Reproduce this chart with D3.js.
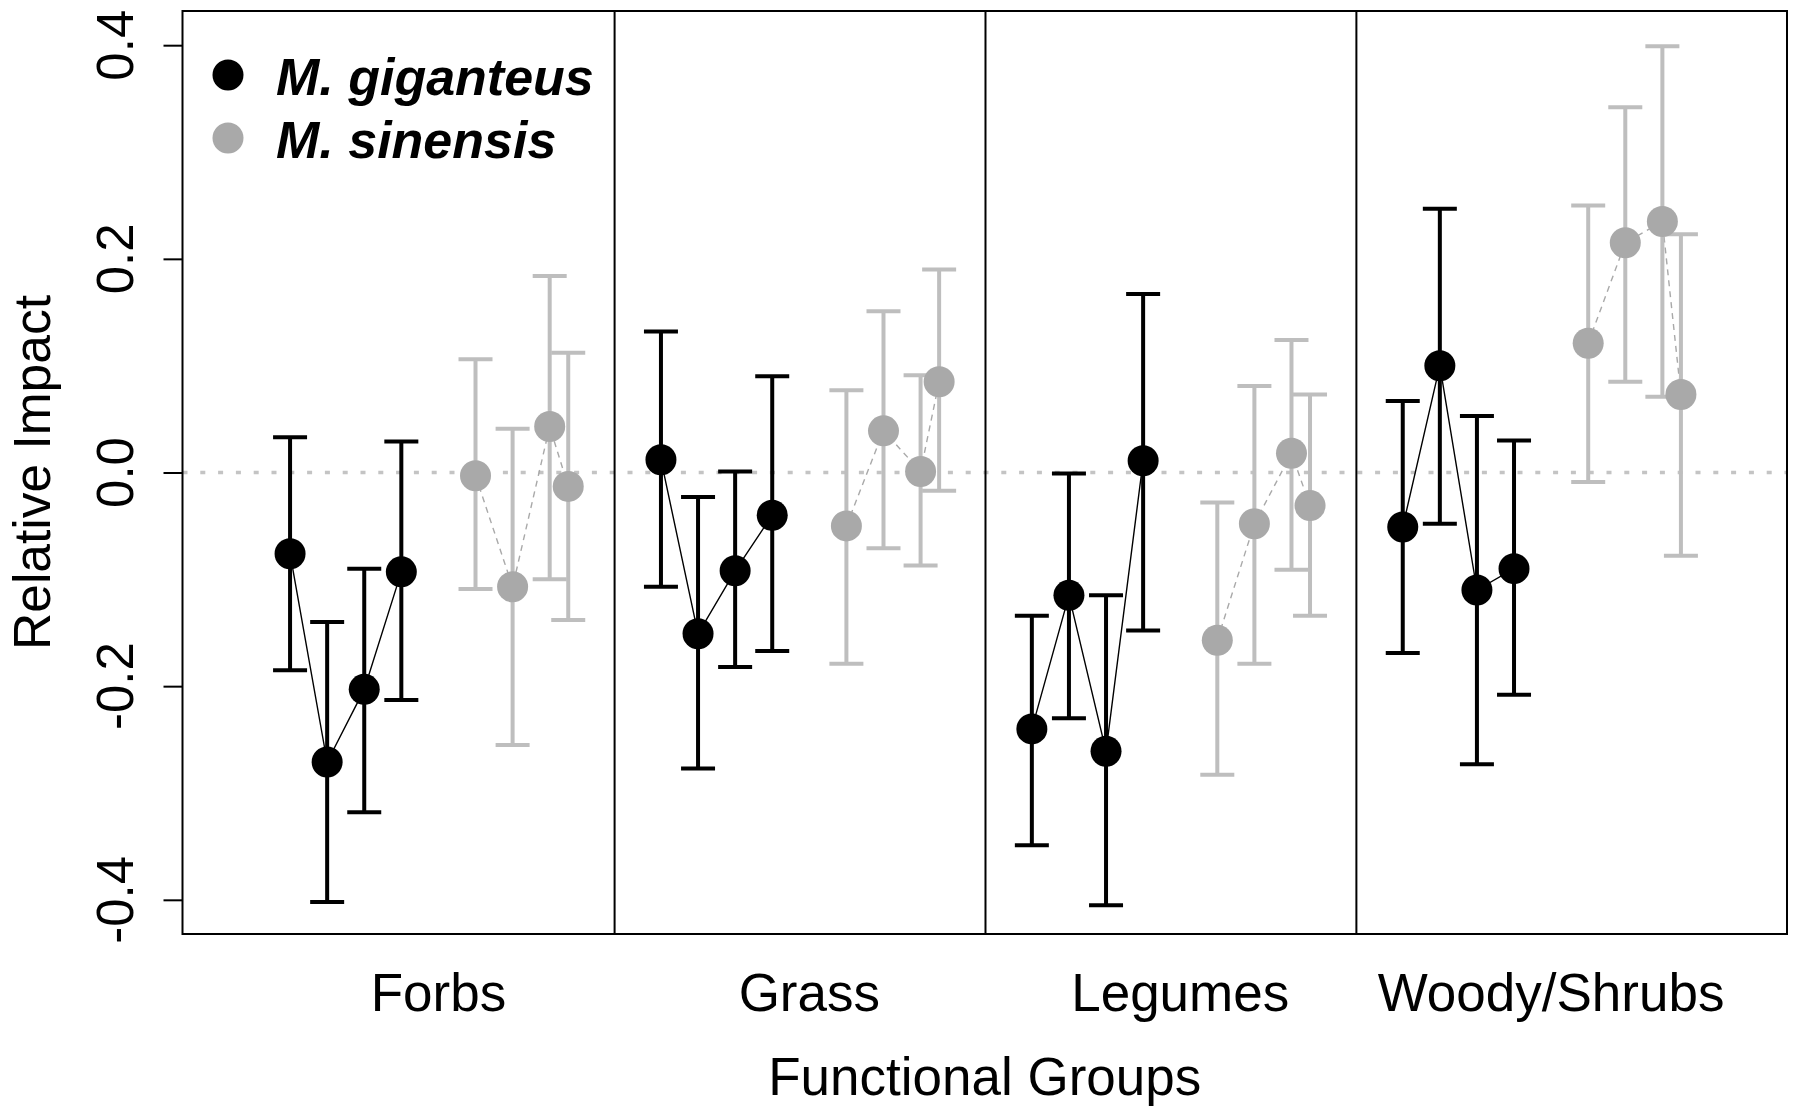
<!DOCTYPE html>
<html>
<head>
<meta charset="utf-8">
<script src="https://cdn.jsdelivr.net/npm/d3@7"></script>
<style>
  body { margin: 0; background: #fff; }
  text { font-family: "Liberation Sans", Arial, sans-serif; }
</style>
</head>
<body>
<div id="chart"></div>
<script>
// functional groups and where each group starts on the x axis
var groups = ["Forbs", "Grass", "Legumes", "Woody/Shrubs"];
var groupStart = [0, 10, 20, 30];
var groupLabelAt = [5, 15, 25, 35];
var dividers = [9.75, 19.75, 29.75];

// x offsets inside a group for each species
var giganteusPos = [1, 2, 3, 4];
var sinensisPos = [6, 7, 8, 8.5];

// M. giganteus: mean, upper and lower bounds per group
var gigMean = [
  [-0.076, -0.271, -0.203, -0.093],
  [0.012, -0.151, -0.092, -0.040],
  [-0.240, -0.115, -0.261, 0.011],
  [-0.051, 0.100, -0.110, -0.090]
];
var gigUpper = [
  [0.033, -0.140, -0.090, 0.029],
  [0.132, -0.023, 0.001, 0.090],
  [-0.134, -0.001, -0.115, 0.167],
  [0.067, 0.247, 0.053, 0.030]
];
var gigLower = [
  [-0.185, -0.402, -0.318, -0.213],
  [-0.107, -0.277, -0.182, -0.167],
  [-0.349, -0.230, -0.405, -0.148],
  [-0.169, -0.048, -0.273, -0.208]
];

// M. sinensis
var sinMean = [
  [-0.003, -0.107, 0.043, -0.013],
  [-0.050, 0.039, 0.001, 0.085],
  [-0.157, -0.048, 0.018, -0.031],
  [0.121, 0.215, 0.235, 0.073]
];
var sinUpper = [
  [0.106, 0.041, 0.184, 0.112],
  [0.077, 0.151, 0.091, 0.190],
  [-0.028, 0.081, 0.124, 0.073],
  [0.250, 0.342, 0.399, 0.223]
];
var sinLower = [
  [-0.109, -0.255, -0.100, -0.138],
  [-0.179, -0.071, -0.087, -0.017],
  [-0.283, -0.179, -0.091, -0.134],
  [-0.009, 0.085, 0.071, -0.078]
];

var yTicks = [-0.4, -0.2, 0.0, 0.2, 0.4];
var speciesNames = ["M. giganteus", "M. sinensis"];

var W = 1800, H = 1118;
var plot = { left: 182.5, right: 1787, top: 11, bottom: 934 };

var svg = d3.select("#chart")
  .append("svg")
  .attr("width", W)
  .attr("height", H);

var x = d3.scaleLinear()
  .domain([-1.9, 41.36])
  .range([plot.left, plot.right]);

var y = d3.scaleLinear()
  .domain([-0.432, 0.432])
  .range([plot.bottom, plot.top]);

// zero reference line
svg.append("line")
  .attr("x1", plot.left).attr("x2", plot.right)
  .attr("y1", y(0)).attr("y2", y(0))
  .attr("stroke", "#c4c4c4")
  .attr("stroke-width", 3.5)
  .attr("stroke-dasharray", "5,12.8");

// build point records
function makeSeries(mean, upper, lower, pos) {
  var out = [];
  groups.forEach(function (g, gi) {
    var pts = pos.map(function (p, i) {
      return { x: groupStart[gi] + p, m: mean[gi][i], hi: upper[gi][i], lo: lower[gi][i] };
    });
    out.push(pts);
  });
  return out;
}

var series = [
  { name: speciesNames[0], data: makeSeries(gigMean, gigUpper, gigLower, giganteusPos),
    bar: "#000", pt: "#000", dash: null },
  { name: speciesNames[1], data: makeSeries(sinMean, sinUpper, sinLower, sinensisPos),
    bar: "#bebebe", pt: "#a9a9a9", dash: "6,5" }
];

var line = d3.line()
  .x(d => x(d.x))
  .y(d => y(d.m));

var capHalf = 17;

series.forEach(function (s) {
  var g = svg.append("g");

  s.data.forEach(function (pts) {
    g.append("path")
      .datum(pts)
      .attr("fill", "none")
      .attr("stroke", s.dash ? "#a9a9a9" : "#000")
      .attr("stroke-width", 1.4)
      .attr("stroke-dasharray", s.dash)
      .attr("d", line);
  });

  var all = [].concat.apply([], s.data);

  g.selectAll(".bar")
    .data(all)
    .enter().append("line")
    .attr("x1", d => x(d.x)).attr("x2", d => x(d.x))
    .attr("y1", d => y(d.hi)).attr("y2", d => y(d.lo))
    .attr("stroke", s.bar)
    .attr("stroke-width", 4);

  ["hi", "lo"].forEach(function (k) {
    g.selectAll(".cap-" + k)
      .data(all)
      .enter().append("line")
      .attr("x1", d => x(d.x) - capHalf).attr("x2", d => x(d.x) + capHalf)
      .attr("y1", d => y(d[k])).attr("y2", d => y(d[k]))
      .attr("stroke", s.bar)
      .attr("stroke-width", 4);
  });

  g.selectAll("circle")
    .data(all)
    .enter().append("circle")
    .attr("cx", d => x(d.x))
    .attr("cy", d => y(d.m))
    .attr("r", 15.5)
    .attr("fill", s.pt);
});

// panel dividers
svg.selectAll(".divider")
  .data(dividers)
  .enter().append("line")
  .attr("x1", d => x(d)).attr("x2", d => x(d))
  .attr("y1", plot.top).attr("y2", plot.bottom)
  .attr("stroke", "#000")
  .attr("stroke-width", 2);

// frame
svg.append("rect")
  .attr("x", plot.left).attr("y", plot.top)
  .attr("width", plot.right - plot.left)
  .attr("height", plot.bottom - plot.top)
  .attr("fill", "none")
  .attr("stroke", "#000")
  .attr("stroke-width", 2);

// y axis
var yAxis = svg.append("g")
  .attr("transform", "translate(" + plot.left + ",0)")
  .call(d3.axisLeft(y).tickValues(yTicks).tickSize(19).tickFormat(d3.format(".1f")));
yAxis.select(".domain").remove();
yAxis.selectAll(".tick line").attr("stroke", "#000").attr("stroke-width", 2);
yAxis.selectAll(".tick text").remove();

svg.selectAll(".ylab")
  .data(yTicks)
  .enter().append("text")
  .attr("transform", d => "translate(133," + y(d) + ") rotate(-90)")
  .attr("text-anchor", "middle")
  .attr("font-size", 51)
  .attr("fill", "#000")
  .text(d => d3.format(".1f")(d).replace("−", "-"));

// group labels
svg.selectAll(".glab")
  .data(groups)
  .enter().append("text")
  .attr("x", (d, i) => x(groupLabelAt[i]))
  .attr("y", 1011)
  .attr("text-anchor", "middle")
  .attr("font-size", 53)
  .attr("fill", "#000")
  .text(d => d);

svg.append("text")
  .attr("x", (plot.left + plot.right) / 2)
  .attr("y", 1095)
  .attr("text-anchor", "middle")
  .attr("font-size", 53)
  .text("Functional Groups");

svg.append("text")
  .attr("transform", "translate(50," + ((plot.top + plot.bottom) / 2) + ") rotate(-90)")
  .attr("text-anchor", "middle")
  .attr("font-size", 51.5)
  .text("Relative Impact");

// legend
var legend = svg.append("g");
series.forEach(function (s, i) {
  var ly = 75 + i * 63;
  legend.append("circle")
    .attr("cx", 228).attr("cy", ly)
    .attr("r", 15.5)
    .attr("fill", s.pt);
  legend.append("text")
    .attr("x", 276).attr("y", ly + 20)
    .attr("font-size", 52)
    .attr("font-weight", "bold")
    .attr("font-style", "italic")
    .text(s.name);
});
</script>
</body>
</html>
